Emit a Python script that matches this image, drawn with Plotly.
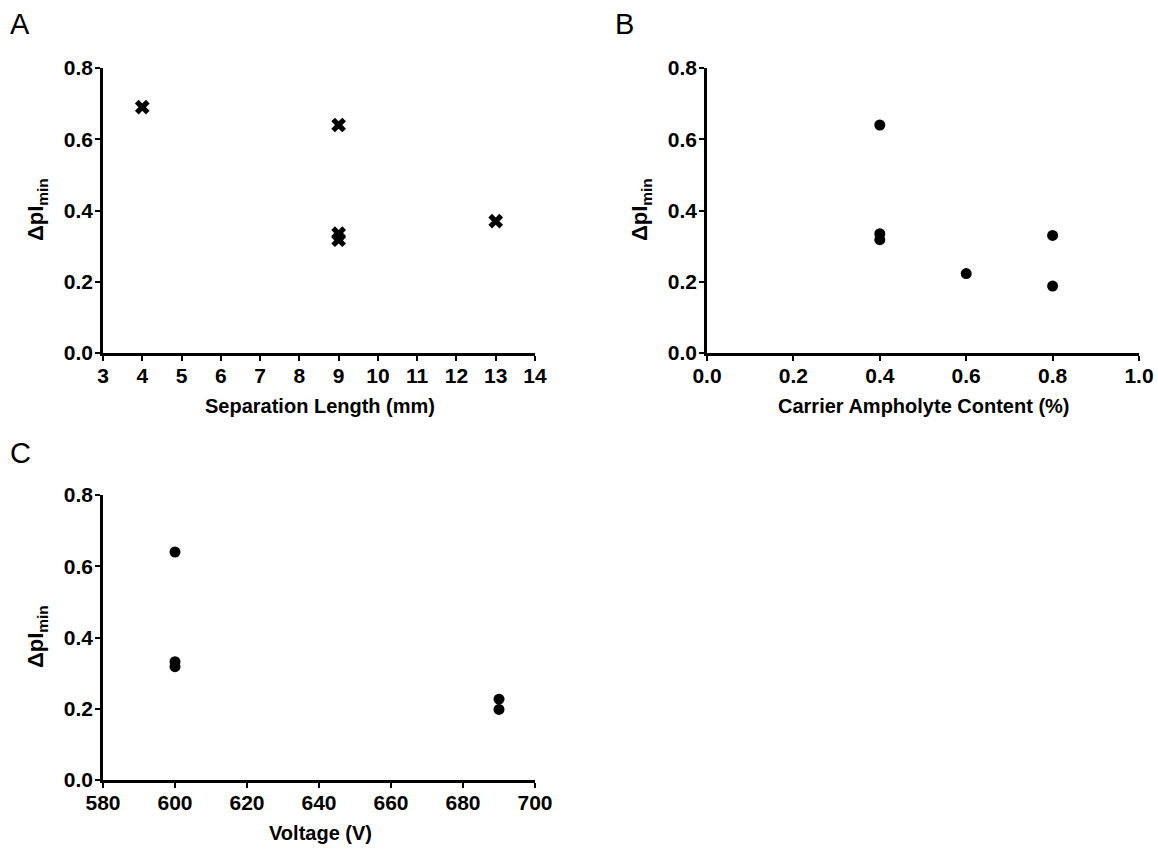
import plotly.graph_objects as go

# Panel A: separation length (mm) vs delta pI min
sep_length = [4, 9, 9, 9, 13]
sep_dpi = [0.69, 0.64, 0.335, 0.318, 0.37]

# Panel B: carrier ampholyte content (%) vs delta pI min
ca_content = [0.4, 0.4, 0.4, 0.6, 0.8, 0.8]
ca_dpi = [0.64, 0.335, 0.318, 0.223, 0.33, 0.188]

# Panel C: voltage (V) vs delta pI min
voltage = [600, 600, 600, 690, 690]
volt_dpi = [0.64, 0.332, 0.318, 0.227, 0.198]

y_ticks = [0.0, 0.2, 0.4, 0.6, 0.8]
x_ticks_a = list(range(3, 15))
x_ticks_b = [0.0, 0.2, 0.4, 0.6, 0.8, 1.0]
x_ticks_c = [580, 600, 620, 640, 660, 680, 700]

W, H = 1158, 850
OFF = 0  # body margin removed by post_script
FONT = "Liberation Sans, Arial, sans-serif"
TICKFONT = dict(family=FONT, size=21, color="black", weight="bold")

fig = go.Figure()
fig.add_trace(go.Scatter(x=sep_length, y=sep_dpi, mode="markers", xaxis="x", yaxis="y",
                         marker=dict(symbol="x", size=13, color="black", line=dict(width=0)),
                         cliponaxis=False, showlegend=False))
fig.add_trace(go.Scatter(x=ca_content, y=ca_dpi, mode="markers", xaxis="x2", yaxis="y2",
                         marker=dict(symbol="circle", size=11, color="black"),
                         cliponaxis=False, showlegend=False))
fig.add_trace(go.Scatter(x=voltage, y=volt_dpi, mode="markers", xaxis="x3", yaxis="y3",
                         marker=dict(symbol="circle", size=11, color="black"),
                         cliponaxis=False, showlegend=False))

def px_x(p):
    return (p - OFF) / W

def px_y(p):
    return 1 - (p - OFF) / H

ax_common = dict(showgrid=False, zeroline=False, showline=True, linecolor="black", linewidth=2.5,
                 ticks="outside", ticklen=5, tickwidth=2, tickcolor="black", tickfont=TICKFONT,
                 mirror=False, automargin=False)

dom_x_left = [px_x(103), px_x(535)]
dom_x_right = [px_x(707), px_x(1139)]
dom_y_top = [px_y(353), px_y(68)]
dom_y_bot = [px_y(780), px_y(495)]

fig.update_layout(
    template="none",
    width=W, height=H, margin=dict(l=0, r=0, t=0, b=0, pad=0),
    paper_bgcolor="white", plot_bgcolor="white",
    xaxis=dict(domain=dom_x_left, anchor="y", range=[3, 14], tickvals=x_ticks_a,
               ticklabelstandoff=-3, **ax_common),
    yaxis=dict(domain=dom_y_top, anchor="x", range=[0, 0.8], tickvals=y_ticks, tickformat=".1f",
               ticklabelstandoff=-2, **ax_common),
    xaxis2=dict(domain=dom_x_right, anchor="y2", range=[0, 1.0], tickvals=x_ticks_b, tickformat=".1f",
                ticklabelstandoff=-3, **ax_common),
    yaxis2=dict(domain=dom_y_top, anchor="x2", range=[0, 0.8], tickvals=y_ticks, tickformat=".1f",
                ticklabelstandoff=-2, **ax_common),
    xaxis3=dict(domain=dom_x_left, anchor="y3", range=[580, 700], tickvals=x_ticks_c,
                ticklabelstandoff=-3, **ax_common),
    yaxis3=dict(domain=dom_y_bot, anchor="x3", range=[0, 0.8], tickvals=y_ticks, tickformat=".1f",
                ticklabelstandoff=-2, **ax_common),
)

TITLEFONT = dict(family=FONT, size=20, color="black", weight="bold")
YTITLEFONT = dict(family=FONT, size=22, color="black", weight="bold")
LETTERFONT = dict(family=FONT, size=29, color="black")

annotations = [
    # panel letters
    dict(text="A", x=px_x(8), y=px_y(24), xanchor="left", yanchor="middle", font=LETTERFONT),
    dict(text="B", x=px_x(613), y=px_y(24), xanchor="left", yanchor="middle", font=LETTERFONT),
    dict(text="C", x=px_x(8), y=px_y(453), xanchor="left", yanchor="middle", font=LETTERFONT),
    # x titles
    dict(text="Separation Length (mm)", x=px_x(320), y=px_y(406), xanchor="center", yanchor="middle", font=TITLEFONT),
    dict(text="Carrier Ampholyte Content (%)", x=px_x(924), y=px_y(406), xanchor="center", yanchor="middle", font=TITLEFONT),
    dict(text="Voltage (V)", x=px_x(320), y=px_y(833), xanchor="center", yanchor="middle", font=TITLEFONT),
    # y titles
    dict(text="ΔpI<sub>min</sub>", x=px_x(37), y=px_y(210), textangle=-90, xanchor="center", yanchor="middle", font=YTITLEFONT),
    dict(text="ΔpI<sub>min</sub>", x=px_x(641), y=px_y(210), textangle=-90, xanchor="center", yanchor="middle", font=YTITLEFONT),
    dict(text="ΔpI<sub>min</sub>", x=px_x(37), y=px_y(637), textangle=-90, xanchor="center", yanchor="middle", font=YTITLEFONT),
]
for a in annotations:
    a.update(xref="paper", yref="paper", showarrow=False)
fig.update_layout(annotations=annotations)

fig.write_html("out.html", config={"displayModeBar": False},
               post_script="document.body.style.margin='0px';")
